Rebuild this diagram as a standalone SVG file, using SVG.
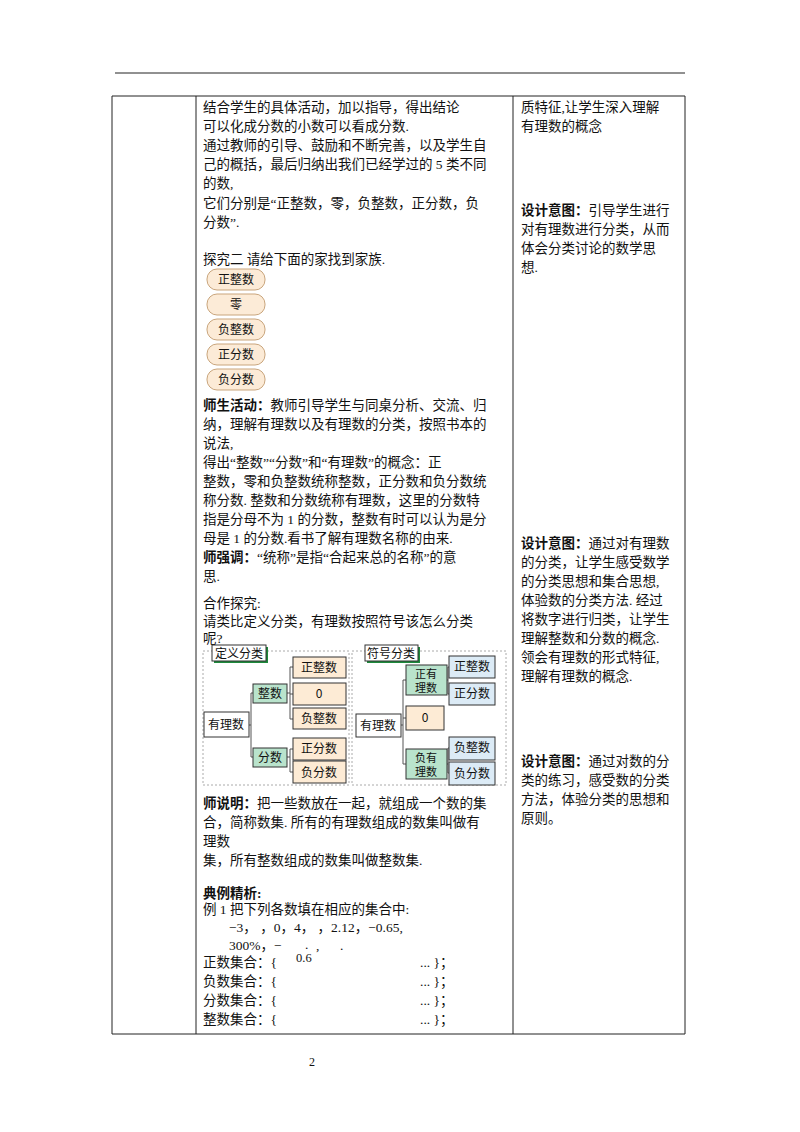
<svg xmlns="http://www.w3.org/2000/svg" width="800" height="1132" viewBox="0 0 800 1132">
<style>
text{font-family:"Liberation Serif","Noto Sans CJK SC",serif;font-size:13.5px;fill:#111}
.b{font-weight:bold}
.s{font-family:"Noto Sans CJK SC",sans-serif;font-size:12px;text-anchor:middle}
.t{font-family:"Noto Sans CJK SC",sans-serif;font-size:11px;text-anchor:middle}
.g{fill:#b9e3cc;stroke:#333;stroke-width:1}
.p{fill:#fdebd5;stroke:#333;stroke-width:1}
.bl{fill:#dcebf6;stroke:#333;stroke-width:1}
.w{fill:#fff;stroke:#333;stroke-width:1}
.pill{fill:#fcebd7;stroke:#c9a57c;stroke-width:1}
.ln{stroke:#222;stroke-width:1;fill:none}
.c{stroke:#555;stroke-width:1;fill:none}
.dash{fill:none;stroke:#aaa;stroke-dasharray:2,2}
</style>
<rect width="800" height="1132" fill="#fff"/>
<g id="table" class="ln">
<line x1="115" y1="73" x2="685" y2="73"/>
<line x1="112" y1="96" x2="685" y2="96"/>
<line x1="112" y1="1034" x2="685" y2="1034"/>
<line x1="112" y1="96" x2="112" y2="1034"/>
<line x1="196" y1="96" x2="196" y2="1034"/>
<line x1="513" y1="96" x2="513" y2="1034"/>
<line x1="685" y1="96" x2="685" y2="1034"/>
</g>
<g id="mid-text">
<text x="203" y="112">结合学生的具体活动，加以指导，得出结论</text>
<text x="203" y="131">可以化成分数的小数可以看成分数.</text>
<text x="203" y="150">通过教师的引导、鼓励和不断完善，以及学生自</text>
<text x="203" y="169">己的概括，最后归纳出我们已经学过的 5 类不同</text>
<text x="203" y="188">的数,</text>
<text x="203" y="208">它们分别是“正整数，零，负整数，正分数，负</text>
<text x="203" y="227">分数”.</text>
<text x="203" y="264">探究二  请给下面的家找到家族.</text>
<text x="203" y="410"><tspan class="b">师生活动：</tspan>教师引导学生与同桌分析、交流、归</text>
<text x="203" y="429">纳，理解有理数以及有理数的分类，按照书本的</text>
<text x="203" y="448">说法,</text>
<text x="203" y="467">得出“整数”“分数”和“有理数”的概念：正</text>
<text x="203" y="486">整数，零和负整数统称整数，正分数和负分数统</text>
<text x="203" y="505">称分数. 整数和分数统称有理数，这里的分数特</text>
<text x="203" y="524">指是分母不为 1 的分数，整数有时可以认为是分</text>
<text x="203" y="543">母是 1 的分数.看书了解有理数名称的由来.</text>
<text x="203" y="562"><tspan class="b">师强调：</tspan>“统称”是指“合起来总的名称”的意</text>
<text x="203" y="581">思.</text>
<text x="203" y="608">合作探究:</text>
<text x="203" y="626">请类比定义分类，有理数按照符号该怎么分类</text>
<text x="203" y="643">呢?</text>
<text x="203" y="808"><tspan class="b">师说明：</tspan>把一些数放在一起，就组成一个数的集</text>
<text x="203" y="827">合，简称数集. 所有的有理数组成的数集叫做有</text>
<text x="203" y="846">理数</text>
<text x="203" y="865">集，所有整数组成的数集叫做整数集.</text>
<text x="203" y="898" class="b">典例精析:</text>
<text x="203" y="914">例 1  把下列各数填在相应的集合中:</text>
<text x="229" y="932">−3，  ，0，4，  ，2.12，−0.65,</text>
<text x="229" y="950">300%，−</text>
<text x="305" y="949">.</text><text x="316" y="950">,</text><text x="340" y="950">.</text>
<text x="296" y="962" style="font-size:12.5px">0.6</text>
</g>
<g id="sets">
<text x="203" y="967">正数集合：{</text><text x="420" y="967">... }；</text>
<text x="203" y="986">负数集合：{</text><text x="420" y="986">... }；</text>
<text x="203" y="1005">分数集合：{</text><text x="420" y="1005">... }；</text>
<text x="203" y="1024">整数集合：{</text><text x="420" y="1024">... }；</text>
</g>
<g id="pills">
<rect class="pill" x="207" y="269" width="58" height="21" rx="10"/><text class="s" x="236" y="284">正整数</text>
<rect class="pill" x="207" y="294" width="58" height="21" rx="10"/><text class="s" x="236" y="309">零</text>
<rect class="pill" x="207" y="319" width="58" height="21" rx="10"/><text class="s" x="236" y="334">负整数</text>
<rect class="pill" x="207" y="344" width="58" height="21" rx="10"/><text class="s" x="236" y="359">正分数</text>
<rect class="pill" x="207" y="369" width="58" height="21" rx="10"/><text class="s" x="236" y="384">负分数</text>
</g>
<g id="diagram-frames">
<rect class="dash" x="203" y="651" width="146" height="134"/>
<rect class="dash" x="352" y="651" width="154" height="134"/>
<rect x="214" y="647" width="54" height="16" fill="#1e8a3c"/>
<rect x="212" y="645" width="54" height="16" fill="#fff" stroke="#333"/>
<text class="s" x="239" y="658">定义分类</text>
<rect x="367" y="647" width="53" height="16" fill="#1e8a3c"/>
<rect x="365" y="645" width="53" height="16" fill="#fff" stroke="#333"/>
<text class="s" x="391" y="658">符号分类</text>
</g>
<g id="connectors" class="c">
<path d="M249 725H251M251 693V757M251 693H253M251 757H253"/>
<path d="M287 693H290M290 667V719M290 667H293M290 694H293M290 719H293"/>
<path d="M287 757H290M290 749V772M290 749H293M290 772H293"/>
<path d="M401 725H403M403 680V764M403 680H406M403 718H406M403 764H406"/>
<path d="M447 680H448M448 667V694M448 667H449M448 694H449"/>
<path d="M447 764H448M448 748V773M448 748H449M448 773H449"/>
</g>
<g id="left-tree">
<rect class="w" x="204" y="712" width="45" height="25"/><text class="s" x="226" y="729">有理数</text>
<rect class="g" x="253" y="684" width="34" height="19"/><text class="s" x="270" y="698">整数</text>
<rect class="g" x="253" y="748" width="34" height="19"/><text class="s" x="270" y="762">分数</text>
<rect class="p" x="293" y="657" width="53" height="21"/><text class="s" x="319" y="672">正整数</text>
<rect class="p" x="293" y="683" width="53" height="22"/><text class="s" x="319" y="698">0</text>
<rect class="p" x="293" y="708" width="53" height="21"/><text class="s" x="319" y="723">负整数</text>
<rect class="p" x="293" y="738" width="53" height="22"/><text class="s" x="319" y="753">正分数</text>
<rect class="p" x="293" y="761" width="53" height="22"/><text class="s" x="319" y="777">负分数</text>
</g>
<g id="right-tree">
<rect class="w" x="356" y="714" width="45" height="23"/><text class="s" x="378" y="730">有理数</text>
<rect class="g" x="406" y="665" width="41" height="30"/><text class="t" x="426" y="678">正有</text><text class="t" x="426" y="692">理数</text>
<rect class="p" x="406" y="706" width="38" height="24"/><text class="s" x="425" y="722">0</text>
<rect class="g" x="406" y="749" width="41" height="30"/><text class="t" x="426" y="762">负有</text><text class="t" x="426" y="776">理数</text>
<rect class="bl" x="449" y="656" width="46" height="22"/><text class="s" x="472" y="671">正整数</text>
<rect class="bl" x="449" y="683" width="46" height="22"/><text class="s" x="472" y="698">正分数</text>
<rect class="bl" x="449" y="737" width="46" height="23"/><text class="s" x="472" y="752">负整数</text>
<rect class="bl" x="449" y="762" width="46" height="23"/><text class="s" x="472" y="778">负分数</text>
</g>
<g id="right-text">
<text x="521" y="112">质特征,让学生深入理解</text>
<text x="521" y="131">有理数的概念</text>
<text x="521" y="215"><tspan class="b">设计意图：</tspan>引导学生进行</text>
<text x="521" y="234">对有理数进行分类，从而</text>
<text x="521" y="253">体会分类讨论的数学思</text>
<text x="521" y="272">想.</text>
<text x="521" y="548"><tspan class="b">设计意图：</tspan>通过对有理数</text>
<text x="521" y="567">的分类，让学生感受数学</text>
<text x="521" y="586">的分类思想和集合思想,</text>
<text x="521" y="605">体验数的分类方法. 经过</text>
<text x="521" y="624">将数字进行归类，让学生</text>
<text x="521" y="643">理解整数和分数的概念.</text>
<text x="521" y="662">领会有理数的形式特征,</text>
<text x="521" y="681">理解有理数的概念.</text>
<text x="521" y="766"><tspan class="b">设计意图：</tspan>通过对数的分</text>
<text x="521" y="785">类的练习，感受数的分类</text>
<text x="521" y="804">方法，体验分类的思想和</text>
<text x="521" y="823">原则。</text>
</g>
<text x="309" y="1066" style="font-size:12px">2</text>
</svg>
